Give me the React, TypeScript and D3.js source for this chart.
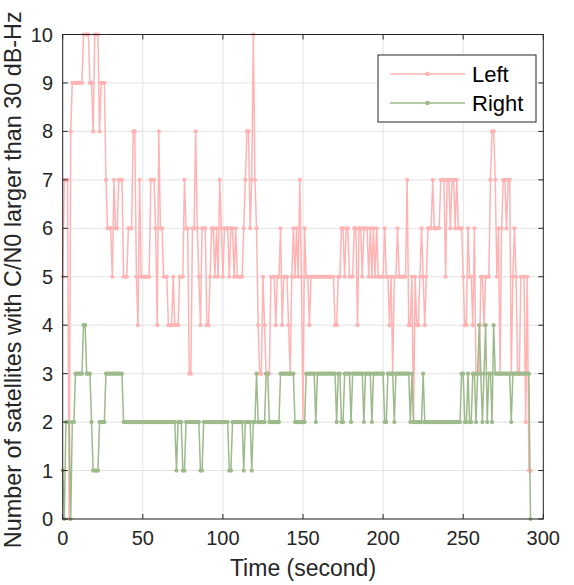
import React from 'react';
import * as d3 from 'd3';

// Number of satellites with C/N0 > 30 dB-Hz, one value per second (t = 0..292)
const LEFT: number[] = [
  5,7,7,7,0,8,9,9,9,9,
  9,9,9,10,10,10,10,9,9,8,
  10,10,10,8,9,9,9,7,6,6,
  6,5,7,6,6,7,7,7,5,5,
  5,6,6,6,8,8,5,4,7,5,
  5,5,5,5,5,7,7,7,6,4,
  8,6,6,5,5,5,4,4,4,5,
  4,4,4,5,5,5,7,6,6,3,
  3,6,6,8,6,5,4,6,6,6,
  4,4,5,6,6,5,6,5,7,6,
  5,6,6,6,5,6,6,5,6,5,
  5,5,5,6,7,8,8,6,7,10,
  7,6,4,3,3,5,4,3,3,3,
  5,5,5,4,5,5,6,4,5,5,
  5,4,3,5,6,5,6,5,7,5,
  2,6,5,5,4,5,5,5,5,5,
  5,5,5,5,5,5,5,5,5,5,
  4,4,5,5,6,6,5,6,6,5,
  5,5,6,6,4,6,6,5,6,6,
  6,5,6,5,6,5,6,5,5,5,
  5,6,5,5,4,5,3,5,5,6,
  5,5,5,5,5,7,4,4,5,2,
  5,4,4,5,6,5,4,5,6,6,
  6,7,6,6,6,6,7,7,7,5,
  7,7,6,7,7,6,7,6,6,6,
  5,4,4,6,5,5,4,6,3,3,
  3,5,5,4,5,5,5,7,8,8,
  7,5,6,3,6,7,7,6,7,7,
  3,5,6,5,3,3,5,5,5,2,
  5,1,1,
];

const RIGHT: number[] = [
  1,0,2,2,2,0,2,2,3,3,
  3,3,3,4,4,3,3,3,2,1,
  1,1,1,2,2,2,2,3,3,3,
  3,3,3,3,3,3,3,3,2,2,
  2,2,2,2,2,2,2,2,2,2,
  2,2,2,2,2,2,2,2,2,2,
  2,2,2,2,2,2,2,2,2,2,
  2,1,2,2,2,1,1,2,2,2,
  2,2,2,2,2,2,1,1,2,2,
  2,2,2,2,2,2,2,2,2,2,
  2,2,2,2,1,1,2,2,2,2,
  2,2,2,1,2,2,2,2,1,2,
  2,3,2,2,2,2,2,3,3,2,
  2,2,2,2,2,2,3,3,3,3,
  3,3,3,3,3,2,2,2,2,2,
  2,2,3,3,3,3,3,3,2,3,
  3,3,3,3,3,3,3,3,3,3,
  3,2,3,3,2,2,3,3,3,3,
  2,3,3,3,3,3,3,3,2,3,
  3,3,3,2,3,3,3,3,3,3,
  3,2,2,3,3,3,3,2,3,3,
  3,3,3,3,3,3,3,2,3,2,
  2,2,2,2,2,3,2,2,2,2,
  2,2,2,2,2,2,2,2,2,2,
  2,2,2,2,2,2,2,2,2,3,
  3,2,2,3,2,2,3,3,2,3,
  4,3,2,3,4,2,3,3,2,4,
  3,3,3,3,3,3,3,3,3,3,
  2,3,3,3,3,3,3,3,3,3,
  3,3,0,
];

const SERIES_NAMES = ['Left', 'Right'];
const X_TICKS = [0, 50, 100, 150, 200, 250, 300];
const Y_TICKS = [0, 1, 2, 3, 4, 5, 6, 7, 8, 9, 10];
const X_LABEL = 'Time (second)';
const Y_LABEL = 'Number of satellites with C/N0 larger than 30 dB-Hz';

const COLORS = ['#FFB3B3', '#9DBA8B'];
const FONT = 'Liberation Sans, Arial, sans-serif';
const AXIS_COLOR = '#262626';

export default function App() {
  const W = 574, H = 585;
  const L = 62.7, R = 543.3, T = 34.5, B = 519;
  const x = d3.scaleLinear().domain([0, 300]).range([L, R]);
  const y = d3.scaleLinear().domain([0, 10]).range([B, T]);
  const line = d3.line<number>().x((_, i) => x(i)).y((d) => y(d));
  const series = [LEFT, RIGHT];
  const tickLen = 5;

  const legend = { x0: 378, y0: 55, x1: 536, y1: 122 };
  const rowY = [74, 103];

  return (
    <svg width={W} height={H} style={{ position: 'absolute', left: 0, top: 0, background: '#fff' }}>
      <rect x={L} y={T} width={R - L} height={B - T} fill="#ffffff" />
      {X_TICKS.map((t) => (
        <line key={'gx' + t} x1={x(t)} x2={x(t)} y1={T} y2={B} stroke="#e3e3e3" strokeWidth={1} />
      ))}
      {Y_TICKS.map((t) => (
        <line key={'gy' + t} x1={L} x2={R} y1={y(t)} y2={y(t)} stroke="#e3e3e3" strokeWidth={1} />
      ))}
      {series.map((s, k) => (
        <g key={'s' + k}>
          <path d={line(s) || ''} fill="none" stroke={COLORS[k]} strokeWidth={1.5} strokeLinejoin="round" />
          {s.map((v, i) => (
            <circle key={i} cx={x(i)} cy={y(v)} r={2.1} fill={COLORS[k]} />
          ))}
        </g>
      ))}
      <rect x={L} y={T} width={R - L} height={B - T} fill="none" stroke={AXIS_COLOR} strokeWidth={1} />
      {X_TICKS.map((t) => (
        <g key={'tx' + t}>
          <line x1={x(t)} x2={x(t)} y1={B} y2={B - tickLen} stroke={AXIS_COLOR} />
          <line x1={x(t)} x2={x(t)} y1={T} y2={T + tickLen} stroke={AXIS_COLOR} />
          <text x={x(t)} y={545} textAnchor="middle" fontFamily={FONT} fontSize={20} fill={AXIS_COLOR}>
            {t}
          </text>
        </g>
      ))}
      {Y_TICKS.map((t) => (
        <g key={'ty' + t}>
          <line x1={L} x2={L + tickLen} y1={y(t)} y2={y(t)} stroke={AXIS_COLOR} />
          <line x1={R} x2={R - tickLen} y1={y(t)} y2={y(t)} stroke={AXIS_COLOR} />
          <text x={53} y={y(t) + 7} textAnchor="end" fontFamily={FONT} fontSize={20} fill={AXIS_COLOR}>
            {t}
          </text>
        </g>
      ))}
      <text x={(L + R) / 2} y={576} textAnchor="middle" fontFamily={FONT} fontSize={23} fill={AXIS_COLOR}>
        {X_LABEL}
      </text>
      <text
        transform={`translate(21, ${(T + B) / 2 + 3}) rotate(-90)`}
        textAnchor="middle"
        fontFamily={FONT}
        fontSize={23.4}
        fill={AXIS_COLOR}
      >
        {Y_LABEL}
      </text>
      <rect
        x={legend.x0}
        y={legend.y0}
        width={legend.x1 - legend.x0}
        height={legend.y1 - legend.y0}
        fill="#ffffff"
        stroke={AXIS_COLOR}
        strokeWidth={1}
      />
      {SERIES_NAMES.map((name, k) => (
        <g key={'lg' + k}>
          <line x1={390} x2={465} y1={rowY[k]} y2={rowY[k]} stroke={COLORS[k]} strokeWidth={1.5} />
          <circle cx={427.5} cy={rowY[k]} r={2.3} fill={COLORS[k]} />
          <text x={472} y={rowY[k] + 8} fontFamily={FONT} fontSize={22} fill="#000">
            {name}
          </text>
        </g>
      ))}
    </svg>
  );
}
